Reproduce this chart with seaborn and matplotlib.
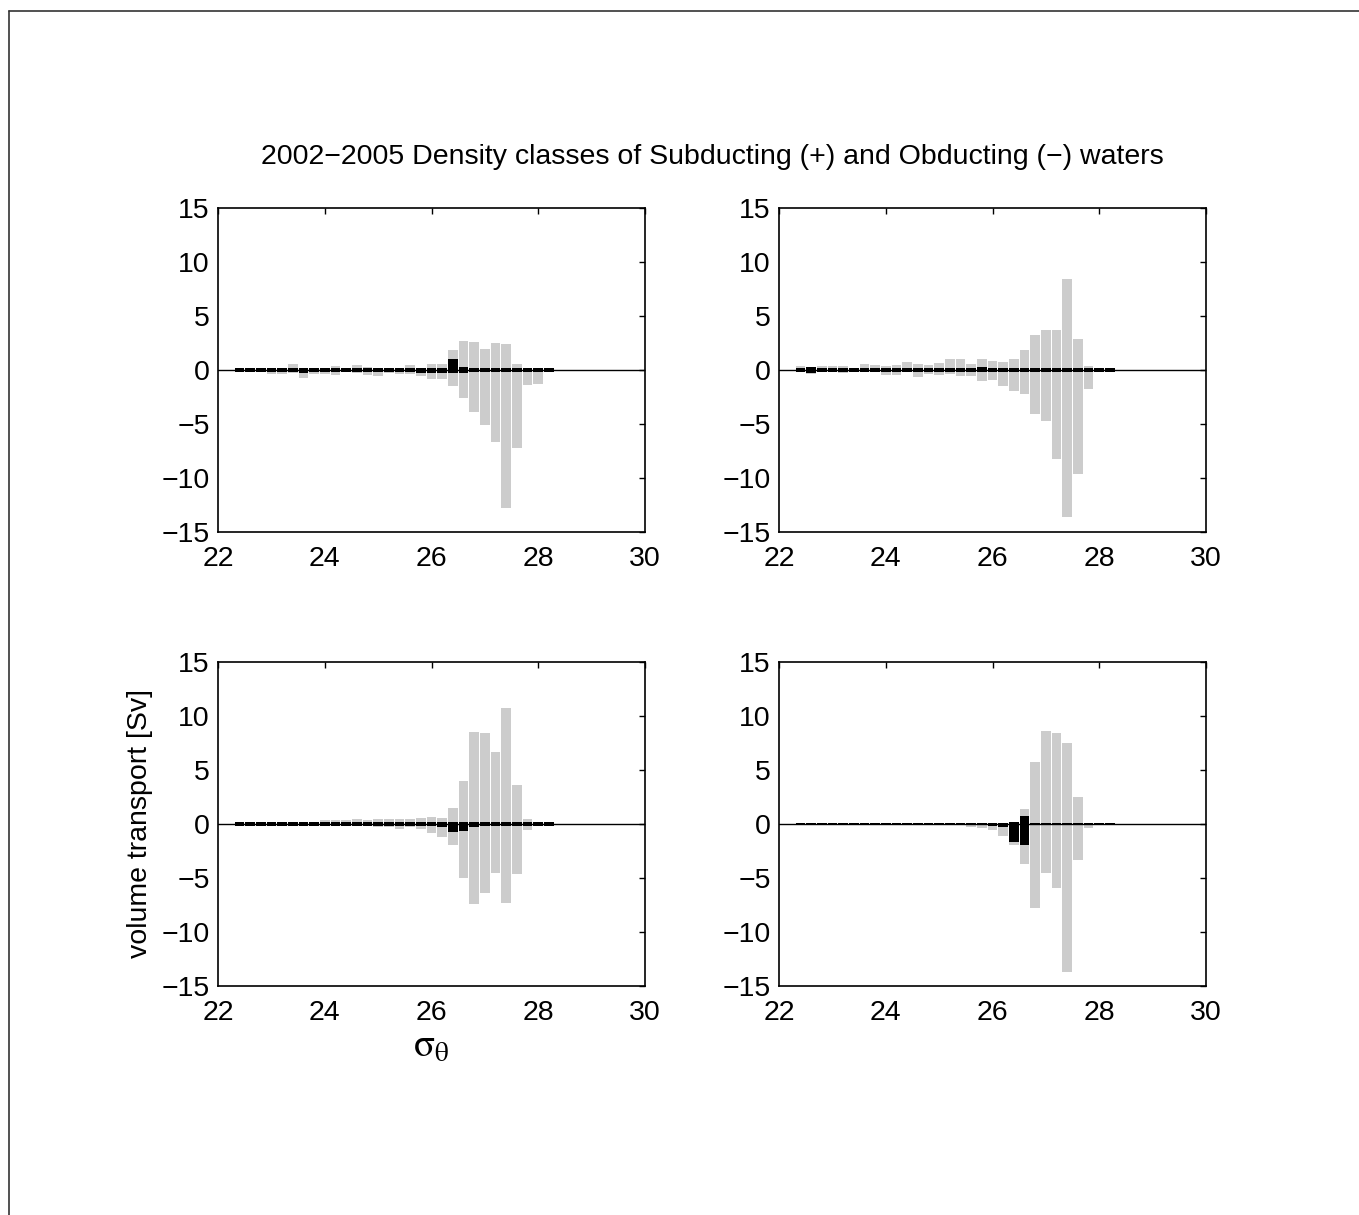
import numpy as np
import pandas as pd
import matplotlib
matplotlib.use("Agg")
import matplotlib.pyplot as plt
from matplotlib.lines import Line2D
import seaborn as sns

# ---- data ---------------------------------------------------------------
sigma = [22.4, 22.6, 22.8, 23.0, 23.2, 23.4, 23.6, 23.8, 24.0, 24.2,
         24.4, 24.6, 24.8, 25.0, 25.2, 25.4, 25.6, 25.8, 26.0, 26.2,
         26.4, 26.6, 26.8, 27.0, 27.2, 27.4, 27.6, 27.8, 28.0, 28.2]

# panel 1 (top-left)
p1_grey_pos = [0.05, 0.05, 0.05, 0.15, 0.15, 0.52, 0.15, 0.18, 0.15, 0.34,
               0.15, 0.49, 0.27, 0.10, 0.15, 0.15, 0.43, 0.15, 0.58, 0.55,
               1.86, 2.68, 2.62, 1.98, 2.47, 2.41, 0.55, 0.10, 0.05, 0.00]
p1_grey_neg = [-0.05, -0.05, -0.05, -0.37, -0.37, -0.27, -0.73, -0.37, -0.37, -0.43,
               -0.21, -0.27, -0.46, -0.52, -0.27, -0.37, -0.40, -0.58, -0.85, -0.82,
               -1.49, -2.59, -3.93, -5.09, -6.71, -12.77, -7.20, -1.40, -1.25, 0.00]
p1_black_pos = [0.18, 0.18, 0.18, 0.18, 0.18, 0.20, 0.18, 0.18, 0.18, 0.18,
                0.18, 0.18, 0.18, 0.18, 0.18, 0.18, 0.18, 0.18, 0.22, 0.18,
                1.00, 0.26, 0.18, 0.18, 0.18, 0.18, 0.18, 0.18, 0.18, 0.18]
p1_black_neg = [-0.18, -0.18, -0.18, -0.18, -0.18, -0.18, -0.32, -0.18, -0.18, -0.18,
                -0.18, -0.18, -0.18, -0.18, -0.18, -0.18, -0.18, -0.27, -0.29, -0.27,
                -0.29, -0.29, -0.18, -0.18, -0.18, -0.18, -0.18, -0.18, -0.18, -0.18]

# panel 2 (top-right)
p2_grey_pos = [0.37, 0.27, 0.40, 0.34, 0.34, 0.18, 0.55, 0.49, 0.34, 0.49,
               0.76, 0.55, 0.49, 0.67, 1.02, 0.98, 0.60, 1.02, 0.82, 0.76,
               1.04, 1.89, 3.26, 3.69, 3.69, 8.41, 2.84, 0.34, 0.05, 0.05]
p2_grey_neg = [-0.21, -0.34, -0.21, -0.21, -0.27, -0.21, -0.21, -0.21, -0.46, -0.46,
               -0.21, -0.64, -0.37, -0.46, -0.37, -0.55, -0.55, -1.02, -0.95, -1.46,
               -1.98, -2.23, -4.09, -4.70, -8.23, -13.57, -9.63, -1.80, -0.05, -0.05]
p2_black_pos = [0.17, 0.26, 0.17, 0.17, 0.17, 0.17, 0.17, 0.17, 0.17, 0.17,
                0.17, 0.17, 0.17, 0.17, 0.17, 0.17, 0.17, 0.26, 0.17, 0.17,
                0.20, 0.17, 0.17, 0.17, 0.17, 0.17, 0.17, 0.17, 0.17, 0.17]
p2_black_neg = [-0.17, -0.26, -0.17, -0.17, -0.17, -0.17, -0.17, -0.17, -0.17, -0.17,
                -0.17, -0.17, -0.17, -0.17, -0.17, -0.17, -0.17, -0.22, -0.17, -0.17,
                -0.20, -0.17, -0.17, -0.17, -0.17, -0.17, -0.17, -0.17, -0.17, -0.17]

# panel 3 (bottom-left)
p3_grey_pos = [0.00, 0.00, 0.00, 0.20, 0.20, 0.20, 0.20, 0.05, 0.37, 0.37,
               0.37, 0.43, 0.37, 0.43, 0.43, 0.46, 0.50, 0.55, 0.67, 0.55,
               1.49, 4.00, 8.50, 8.41, 6.68, 10.70, 3.60, 0.46, 0.00, 0.00]
p3_grey_neg = [0.00, 0.00, 0.00, -0.10, -0.10, -0.10, -0.10, -0.05, -0.18, -0.12,
               -0.12, -0.18, -0.18, -0.24, -0.24, -0.43, -0.24, -0.43, -0.82, -1.19,
               -1.98, -5.03, -7.38, -6.40, -4.51, -7.32, -4.60, -0.55, 0.00, 0.00]
p3_black_pos = [0.14, 0.14, 0.14, 0.14, 0.14, 0.14, 0.14, 0.14, 0.14, 0.14,
                0.14, 0.14, 0.14, 0.14, 0.14, 0.14, 0.14, 0.14, 0.14, 0.14,
                0.14, 0.18, 0.14, 0.14, 0.14, 0.14, 0.14, 0.14, 0.14, 0.14]
p3_black_neg = [-0.14, -0.14, -0.14, -0.14, -0.14, -0.14, -0.14, -0.14, -0.14, -0.14,
                -0.14, -0.18, -0.16, -0.14, -0.14, -0.20, -0.14, -0.14, -0.14, -0.27,
                -0.73, -0.61, -0.30, -0.14, -0.14, -0.14, -0.14, -0.14, -0.14, -0.14]

# panel 4 (bottom-right)
p4_grey_pos = [0.00, 0.00, 0.00, 0.00, 0.00, 0.00, 0.00, 0.00, 0.00, 0.00,
               0.00, 0.00, 0.00, 0.00, 0.00, 0.00, 0.00, 0.00, 0.12, 0.00,
               0.18, 1.43, 5.76, 8.63, 8.41, 7.53, 2.47, 0.12, 0.00, 0.00]
p4_grey_neg = [0.00, 0.00, 0.00, 0.00, 0.00, 0.00, 0.00, 0.00, 0.00, 0.00,
               0.00, 0.00, 0.00, 0.00, -0.05, -0.05, -0.30, -0.37, -0.55, -1.10,
               -1.98, -3.69, -7.74, -4.54, -5.95, -13.66, -3.29, -0.34, 0.00, 0.00]
p4_black_pos = [0.13, 0.13, 0.13, 0.13, 0.13, 0.13, 0.13, 0.13, 0.13, 0.13,
                0.13, 0.13, 0.13, 0.13, 0.13, 0.13, 0.13, 0.13, 0.13, 0.13,
                0.18, 0.76, 0.13, 0.13, 0.13, 0.13, 0.13, 0.13, 0.13, 0.13]
p4_black_neg = [-0.13, -0.13, -0.13, -0.13, -0.13, -0.13, -0.13, -0.13, -0.13, -0.13,
                -0.13, -0.13, -0.13, -0.13, -0.13, -0.13, -0.13, -0.13, -0.22, -0.29,
                -1.71, -1.95, -0.13, -0.13, -0.13, -0.13, -0.13, -0.13, -0.13, -0.13]

panels = [
    (p1_grey_pos, p1_grey_neg, p1_black_pos, p1_black_neg),
    (p2_grey_pos, p2_grey_neg, p2_black_pos, p2_black_neg),
    (p3_grey_pos, p3_grey_neg, p3_black_pos, p3_black_neg),
    (p4_grey_pos, p4_grey_neg, p4_black_pos, p4_black_neg),
]

xticks = [22, 24, 26, 28, 30]
yticks = [-15, -10, -5, 0, 5, 10, 15]
title = "2002\u22122005 Density classes of Subducting (+) and Obducting (\u2212) waters"
ylabel = "volume transport [Sv]"
xlabel = r"$\mathrm{\sigma}_{\mathrm{\theta}}$"

# ---- style --------------------------------------------------------------
sns.set_theme(style="white")
plt.rcParams["font.family"] = ["Liberation Sans", "DejaVu Sans"]
plt.rcParams.update({
    "axes.edgecolor": "black",
    "axes.linewidth": 1.2,
    "xtick.direction": "in",
    "ytick.direction": "in",
    "xtick.top": True,
    "ytick.right": True,
    "xtick.major.size": 4,
    "ytick.major.size": 4,
    "xtick.major.width": 1.0,
    "ytick.major.width": 1.0,
    "xtick.color": "black",
    "ytick.color": "black",
    "text.color": "black",
    "axes.labelcolor": "black",
})

FS = 20.5
fig = plt.figure(figsize=(13.59, 12.15), dpi=100)
W, H = 1359, 1215
lefts = [218, 779]
tops = [208, 662]
aw, ah = 427, 324
positions = [(lefts[0], tops[0]), (lefts[1], tops[0]), (lefts[0], tops[1]), (lefts[1], tops[1])]

GREY = "#cccccc"
axes = []
for (l, t), (gp, gn, bp, bn) in zip(positions, panels):
    ax = fig.add_axes([l / W, 1 - (t + ah) / H, aw / W, ah / H])
    for vals, col in ((gp, GREY), (gn, GREY), (bp, "black"), (bn, "black")):
        df = pd.DataFrame({"sigma": sigma, "v": vals})
        sns.barplot(data=df, x="sigma", y="v", native_scale=True, width=0.9,
                    color=col, saturation=1, linewidth=0,
                    errorbar=None, ax=ax)
    ax.axhline(0, color="black", lw=1.0, zorder=5)
    ax.set_xlim(22, 30)
    ax.set_ylim(-15, 15)
    ax.set_xticks(xticks)
    ax.set_yticks(yticks)
    ax.set_xticklabels([str(v) for v in xticks], fontsize=FS)
    ax.set_yticklabels([("\u2212" + str(-v)) if v < 0 else str(v) for v in yticks], fontsize=FS)
    ax.tick_params(axis="x", pad=10)
    ax.tick_params(axis="y", pad=6)
    ax.set_xlabel("")
    ax.set_ylabel("")
    for s in ax.spines.values():
        s.set_visible(True)
        s.set_color("black")
        s.set_linewidth(1.2)
    axes.append(ax)

axes[2].set_ylabel(ylabel, fontsize=FS, labelpad=6)
axes[2].set_xlabel(xlabel, fontsize=28, labelpad=2, math_fontfamily="stix")

fig.text(712 / W, 1 - 157 / H, title, ha="center", va="center", fontsize=FS)

# figure border (top and left edges)
fig.add_artist(Line2D([9 / W, 1.0], [1 - 11 / H, 1 - 11 / H], transform=fig.transFigure,
                      color="#333333", lw=1.2))
fig.add_artist(Line2D([9 / W, 9 / W], [0.0, 1 - 11 / H], transform=fig.transFigure,
                      color="#333333", lw=1.2))

fig.savefig("out.png", dpi=100, facecolor="white")
